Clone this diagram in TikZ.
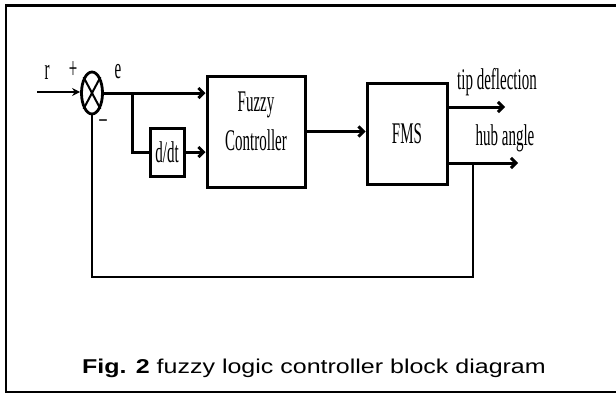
\documentclass[tikz,border=0pt]{standalone}
\usepackage{fontspec}
\setmainfont{Liberation Serif}
\newfontfamily\narrowserif[FakeStretch=0.5]{Liberation Serif}
\newfontfamily\capfont[FakeStretch=1.25]{Liberation Sans}
\usetikzlibrary{arrows.meta,positioning,shapes.geometric}

\begin{document}
\begin{tikzpicture}[x=1pt, y=-1pt,
  >={Straight Barb[length=5pt,width=10pt]},
  font=\narrowserif\fontsize{30}{39}\selectfont,
  blk/.style={draw, line width=3pt, inner sep=0pt},
  sig/.style={line width=3pt},
  fb/.style={line width=2pt}]
\useasboundingbox (0,0) rectangle (616,394);
% frame
\draw[line width=2.2pt] (625,5.5) -- (6,5.5) -- (6,392) -- (625,392);

% blocks
\node[draw, ellipse, line width=2.8pt, minimum width=21pt, minimum height=42pt, inner sep=0pt] (sum) at (92,93) {};
\draw[line width=2pt] (sum.north west) -- (sum.south east);
\draw[line width=2pt] (sum.north east) -- (sum.south west);
\node[blk, minimum width=34pt, minimum height=48pt] (ddt) at (167,152) {d/dt};
\node[blk, align=center, text depth=20pt, minimum width=98pt, minimum height=111pt] (fuzzy) at (256,131.5) {Fuzzy\\Controller};
\node[blk, minimum width=80pt, minimum height=101pt] (fms) at (407,133.5) {FMS};

% labels
\node (r) at (47,72) {r};
\node (plus) at (73,70) {+};
\node (e) at (118,72) {e};
\node (minus) at (103,124) {\textendash};
\node (tiplbl) at (497,82) {tip deflection};
\node (hublbl) at (505,138) {hub angle};

% signal points
\coordinate (rin) at (37,92);
\coordinate (br) at (132,93);
\coordinate (tip) at (505,107);
\coordinate (hub) at (518,163);
\coordinate (tap) at (473,163);

% connections
\draw[fb,-{Stealth[length=8pt,width=8pt]}] (rin) -- (sum.west |- rin);
\draw[sig,->] (sum.east) -- (fuzzy.west |- sum.east);
\draw[sig] (br) |- (ddt.west);
\draw[sig,->] (ddt.east) -- (fuzzy.west |- ddt.east);
\draw[sig,->] (fuzzy.east) -- (fms.west |- fuzzy.east);
\draw[sig,->] (fms.east |- tip) -- (tip);
\draw[sig,->] (fms.east |- hub) -- (hub);
\draw[fb] (tap) -- ++(0,114) -| (sum.south);

% caption
\node[font=\capfont\fontsize{20}{24}\selectfont] (cap) at (314,368) {\textbf{Fig. 2} fuzzy logic controller block diagram};
\end{tikzpicture}
\end{document}
